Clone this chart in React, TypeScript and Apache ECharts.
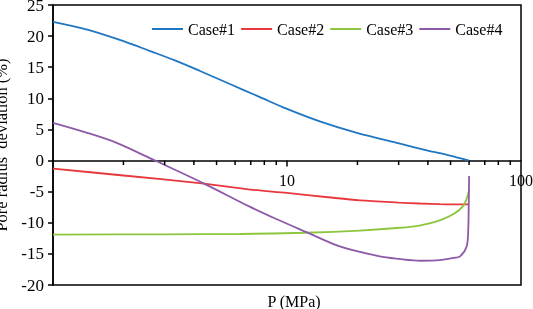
import React, { useEffect, useRef } from "react";
import * as echarts from "echarts";

const seriesNames = ["Case#1", "Case#2", "Case#3", "Case#4"];
const colors = ["#1f76c2", "#e8383d", "#8cc63f", "#8e5aa8"];

const case1P = [1, 1.4, 2, 2.6, 3.32, 4.25, 5.7, 7.66, 10, 13.8, 19.9, 30.1, 40, 49.7, 60];
const case1V = [22.3, 21.05, 19.2, 17.6, 16.1, 14.4, 12.3, 10.2, 8.3, 6.3, 4.45, 2.75, 1.6, 0.8, 0];

const case2P = [1, 2, 4.42, 6.96, 10, 15, 20.5, 30, 37, 45, 55, 60];
const case2V = [-1.3, -2.4, -3.7, -4.66, -5.2, -5.9, -6.4, -6.75, -6.9, -7.0, -7.05, -7.05];

const case3P = [1, 3, 6.3, 12, 20.5, 30.4, 37.2, 45, 51.5, 56.9, 59.3, 60];
const case3V = [-11.9, -11.85, -11.8, -11.6, -11.25, -10.8, -10.4, -9.6, -8.6, -7.2, -5.5, -4.7];

const case4P = [1, 1.4, 1.87, 2.73, 4.42, 6.96, 9, 12.1, 16.8, 24.9, 30, 37.2, 45, 51.5, 54.9, 58.6, 59.5, 59.8, 60];
const case4V = [6.05, 4.45, 2.85, 0, -3.7, -7.45, -9.4, -11.5, -13.8, -15.4, -15.8, -16.1, -16.0, -15.65, -15.4, -13.8, -11.1, -7.0, -2.5];

const majorTickValues = [10];
const minorTickValues = [2, 3, 4, 5, 6, 7, 8, 9, 20, 30, 40, 50, 60, 70, 80, 90];
const xTickLabels = [10, 100];

const yTickMin = -20;
const yTickMax = 25;
const yTickStep = 5;

const FONT = "Liberation Serif";

function pairs(xs: number[], ys: number[]) {
  return xs.map((x, i) => [x, ys[i]]);
}

export default function App() {
  const ref = useRef<HTMLDivElement>(null);
  useEffect(() => {
    if (!ref.current) return;
    const chart = echarts.init(ref.current, undefined, { renderer: "svg" });
    const allP = [case1P, case2P, case3P, case4P];
    const allV = [case1V, case2V, case3V, case4V];
    const lineSeries = seriesNames.map((name, i) => ({
      name,
      type: "line",
      data: pairs(allP[i], allV[i]),
      symbol: "none",
      smooth: 0.3,
      lineStyle: { color: colors[i], width: 1.8 },
      itemStyle: { color: colors[i] },
      z: 3,
    }));
    const tickData = [
      ...majorTickValues.map((v) => [v, 0, 6]),
      ...minorTickValues.map((v) => [v, 0, 4.5]),
    ];
    chart.setOption({
      animation: false,
      textStyle: { fontFamily: FONT, color: "#000" },
      grid: {
        left: 53,
        right: 12,
        top: 5,
        bottom: 24,
        show: true,
        borderColor: "#000",
        borderWidth: 1.5,
        outerBoundsMode: "none",
        containLabel: false,
      },
      legend: {
        data: seriesNames,
        left: 147,
        top: 16,
        icon: "rect",
        itemWidth: 31,
        itemHeight: 2,
        itemGap: 6,
        textStyle: { fontFamily: FONT, fontSize: 16, color: "#000" },
      },
      xAxis: {
        type: "log",
        logBase: 10,
        min: 1,
        max: 100,
        axisLine: { onZero: true, lineStyle: { color: "#000", width: 1.5 } },
        axisTick: { show: false },
        axisLabel: { show: false },
        splitLine: { show: false },
      },
      yAxis: {
        type: "value",
        min: yTickMin,
        max: yTickMax,
        interval: yTickStep,
        name: "Pore radius  deviation (%)",
        nameLocation: "middle",
        nameGap: 36,
        nameTextStyle: { fontSize: 16.5, fontFamily: FONT, color: "#000" },
        axisLine: { show: true, lineStyle: { color: "#000", width: 1.5 } },
        axisTick: { show: true, length: 5, lineStyle: { color: "#000", width: 1.5 } },
        axisLabel: { margin: 9, fontSize: 17, fontFamily: FONT, color: "#000" },
        splitLine: { show: false },
      },
      graphic: [
        {
          type: "text",
          x: 294,
          y: 301,
          style: {
            text: "P (MPa)",
            fontSize: 16,
            fontFamily: FONT,
            fill: "#000",
            align: "center",
            verticalAlign: "middle",
          },
        },
      ],
      series: [
        ...lineSeries,
        {
          type: "custom",
          name: "xTicks",
          silent: true,
          clip: false,
          data: tickData,
          renderItem: (params: any, api: any) => {
            const p = api.coord([api.value(0), 0]);
            const len = api.value(2);
            return {
              type: "line",
              shape: { x1: p[0], y1: p[1], x2: p[0], y2: p[1] + len },
              style: { stroke: "#000", lineWidth: 1.5 },
            };
          },
          z: 4,
        },
        {
          type: "custom",
          name: "xLabels",
          silent: true,
          clip: false,
          data: xTickLabels.map((v) => [v, 0]),
          renderItem: (params: any, api: any) => {
            const p = api.coord([api.value(0), 0]);
            return {
              type: "text",
              x: p[0],
              y: p[1] + 20,
              style: {
                text: String(api.value(0)),
                fontSize: 16,
                fontFamily: FONT,
                fill: "#000",
                align: "center",
                verticalAlign: "middle",
              },
            };
          },
          z: 4,
        },
      ],
    });
    return () => chart.dispose();
  }, []);
  return (
    <div
      ref={ref}
      style={{ position: "fixed", left: 0, top: 0, width: 533, height: 309 }}
    />
  );
}
